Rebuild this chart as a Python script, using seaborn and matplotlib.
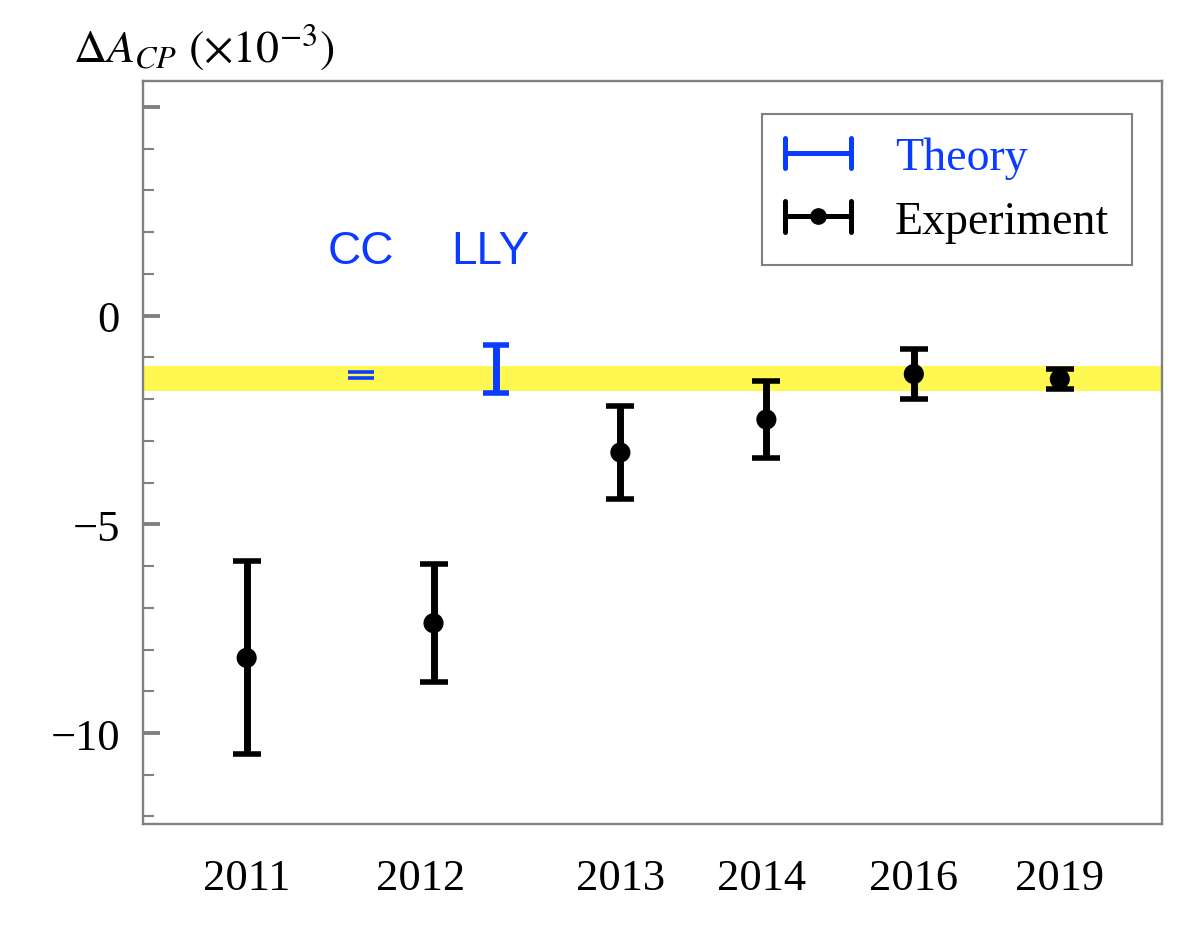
import numpy as np
import pandas as pd
import matplotlib
matplotlib.use("Agg")
import matplotlib.pyplot as plt
import seaborn as sns
from matplotlib.ticker import MultipleLocator
from matplotlib.legend_handler import HandlerBase
from matplotlib.lines import Line2D

# -------------------------------
# Data (values in units of 1e-3)
# -------------------------------
exp_years = ["2011", "2012", "2013", "2014", "2016", "2019"]
exp_x = [1.0, 2.28, 3.56, 4.56, 5.57, 6.57]
exp_val = [-8.20, -7.37, -3.28, -2.49, -1.40, -1.52]
exp_err = [2.31, 1.42, 1.12, 0.93, 0.61, 0.24]

year_tick_x = [1.0, 2.19, 3.56, 4.53, 5.57, 6.57]

theory_names = ["CC", "LLY"]
theory_x = [1.78, 2.71]
theory_val = [-1.42, -1.28]
theory_err = [0.075, 0.58]
theory_label_x = [1.78, 2.67]
theory_label_y = 1.55

band_low, band_high = -1.81, -1.21

exp_df = pd.DataFrame({"x": exp_x, "val": exp_val, "err": exp_err})

# -------------------------------
# Style
# -------------------------------
sns.set_theme(style="ticks")
plt.rcParams["font.family"] = ["Liberation Serif", "DejaVu Serif"]
plt.rcParams["mathtext.fontset"] = "stix"
plt.rcParams["text.color"] = "black"
plt.rcParams["xtick.labelcolor"] = "black"
plt.rcParams["ytick.labelcolor"] = "black"

blue = "#0a3cff"
gray = "#808080"
yellow = "#fff850"


# legend entry: horizontal bar with end caps (+ optional dot)
class HBarHandler(HandlerBase):
    def __init__(self, color, dot=False):
        super().__init__()
        self.color = color
        self.dot = dot

    def create_artists(self, legend, orig_handle, xdescent, ydescent,
                       width, height, fontsize, trans):
        y = height / 2 - ydescent
        x0, x1 = -xdescent, width - xdescent
        h = 0.33 * fontsize
        arts = [Line2D([x0, x1], [y, y], color=self.color, lw=3.6, transform=trans),
                Line2D([x0, x0], [y - h, y + h], color=self.color, lw=3.6, transform=trans),
                Line2D([x1, x1], [y - h, y + h], color=self.color, lw=3.6, transform=trans)]
        if self.dot:
            arts.append(Line2D([(x0 + x1) / 2], [y], marker="o", ms=11, color=self.color,
                               lw=0, transform=trans))
        return arts


fig = plt.figure(figsize=(12.04, 9.28), dpi=100)
ax = fig.add_axes([143 / 1204, 1 - 825 / 928, 1019 / 1204, 743 / 928])

ax.axhspan(band_low, band_high, color=yellow, lw=0, zorder=0)

# experiment error bars + dots
ax.errorbar(exp_df["x"], exp_df["val"], yerr=exp_df["err"], fmt="none",
            ecolor="black", elinewidth=5, capsize=9.8, capthick=4, zorder=3)
sns.scatterplot(data=exp_df, x="x", y="val", color="black", s=210,
                edgecolor="none", zorder=4, ax=ax, legend=False)

# theory predictions
cap_thick = [2.6, 4]
line_w = [0, 5]
for i in range(len(theory_names)):
    ax.errorbar([theory_x[i]], [theory_val[i]], yerr=[theory_err[i]], fmt="none",
                ecolor=blue, elinewidth=line_w[i], capsize=9.2, capthick=cap_thick[i],
                zorder=3)
    ax.text(theory_label_x[i], theory_label_y, theory_names[i], color=blue,
            family=["Liberation Sans", "DejaVu Sans"], fontsize=33,
            ha="center", va="center")

h_theory = Line2D([], [], color=blue, label="Theory")
h_exp = Line2D([], [], color="black", label="Experiment")
leg = ax.legend(handles=[h_theory, h_exp], loc="upper right",
                bbox_to_anchor=(0.9706, 0.9556), borderaxespad=0, fontsize=33,
                frameon=True, fancybox=False, edgecolor=gray, framealpha=1,
                handlelength=1.45, handletextpad=0.95, labelspacing=0.45,
                borderpad=0.5,
                handler_map={h_theory: HBarHandler(blue),
                             h_exp: HBarHandler("black", dot=True)})
leg.get_frame().set_linewidth(1.5)
leg.get_texts()[0].set_color(blue)

# axes
ax.set_xlim(0.29, 7.27)
ax.set_ylim(-12.18, 5.62)
ax.set_xticks(year_tick_x)
ax.set_xticklabels(exp_years)
ax.yaxis.set_major_locator(MultipleLocator(5))
ax.yaxis.set_minor_locator(MultipleLocator(1))
ax.set_yticks([-10, -5, 0, 5])
ax.set_yticklabels(["\u221210", "\u22125", "0", ""])
ax.set_xlabel("")
ax.set_ylabel("")

ax.tick_params(axis="x", length=0, pad=24.5, labelsize=32)
ax.tick_params(axis="y", which="major", direction="in", length=12, width=2.8,
               color=gray, pad=16.5, labelsize=32)
ax.tick_params(axis="y", which="minor", direction="in", length=8, width=1.5,
               color=gray)
ax.tick_params(top=False, right=False)
for s in ax.spines.values():
    s.set_color(gray)
    s.set_linewidth(1.7)

fig.text(73 / 1204, 1 - 47 / 928, r"$\Delta A_{CP}\ (\times 10^{-3})$",
         fontsize=33, ha="left", va="center")

fig.savefig("out.png", dpi=100)
plt.close(fig)
